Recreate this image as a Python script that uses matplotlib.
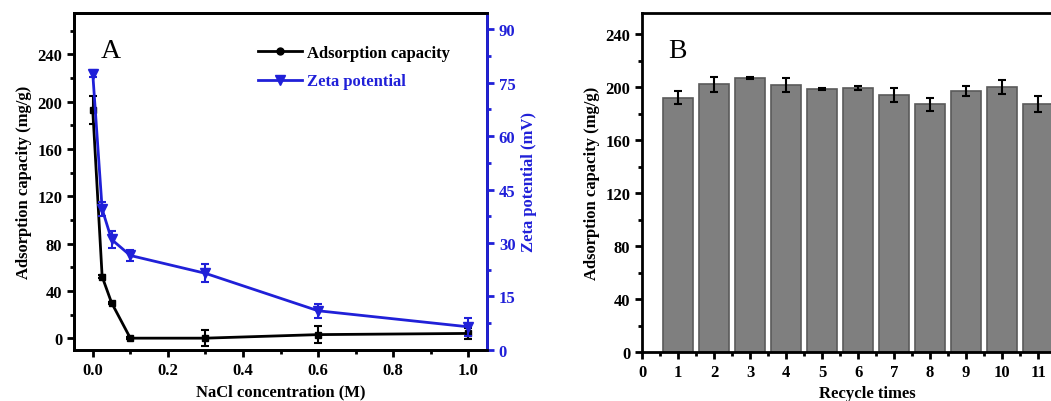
import matplotlib.pyplot as plt
from matplotlib.lines import Line2D
from matplotlib.ticker import MultipleLocator

# ── DATA ──────────────────────────────────────────────────────────────────────
nacl_conc  = [0.0, 0.025, 0.05, 0.1, 0.3, 0.6, 1.0]
ads_cap    = [193, 52, 30, 0, 0, 3, 4]
ads_err    = [12, 1, 1, 1, 7, 7, 5]
zeta       = [77.5, 39.5, 31, 26.5, 21.5, 11, 6.5]
zeta_err   = [1.0, 2.0, 2.5, 1.5, 2.5, 2.0, 2.5]

cycles     = [1, 2, 3, 4, 5, 6, 7, 8, 9, 10, 11]
cycle_cap  = [192, 202, 207, 201.5, 198.5, 199, 194, 187, 197, 200, 187]
cycle_err  = [5, 6, 1, 5.5, 0.5, 1.5, 5, 5, 4, 5.5, 6]
# ─────────────────────────────────────────────────────────────────────────────

BLUE = "#2020d8"
plt.rcParams["font.family"] = ["Liberation Serif", "DejaVu Serif"]
plt.rcParams["font.weight"] = "bold"
plt.rcParams["axes.linewidth"] = 2

fig = plt.figure(figsize=(10.51, 4.02), dpi=100)


def style_ticks(ax, **kw):
    ax.tick_params(which="major", direction="out", length=5, width=2, labelsize=12, **kw)
    ax.tick_params(which="minor", direction="out", length=3, width=2, **kw)


# ── PANEL A: NaCl effect ──────────────────────────────────────────────────────
ax = fig.add_axes([0.0704, 0.1269, 0.393, 0.8383])
ax.errorbar(nacl_conc, ads_cap, yerr=ads_err, color="black", marker="s",
            markersize=5, linewidth=2, capsize=3, elinewidth=1.5, capthick=1.5,
            zorder=3)
ax.set_xlim(-0.05, 1.05)
ax.set_ylim(-10, 275)
ax.xaxis.set_major_locator(MultipleLocator(0.2))
ax.xaxis.set_minor_locator(MultipleLocator(0.1))
ax.yaxis.set_major_locator(MultipleLocator(40))
ax.yaxis.set_minor_locator(MultipleLocator(20))
ax.xaxis.set_major_formatter(plt.FuncFormatter(lambda v, p: f"{v:.1f}"))
style_ticks(ax, top=False, right=False)
ax.set_xlabel("NaCl concentration (M)", fontsize=12, fontweight="bold")
ax.set_ylabel("Adsorption capacity (mg/g)", fontsize=12, fontweight="bold")
ax.text(0.065, 0.87, "A", transform=ax.transAxes, fontsize=20, fontweight="normal")

ax2 = ax.twinx()
ax2.errorbar(nacl_conc, zeta, yerr=zeta_err, color=BLUE, marker="v",
             markersize=7, linewidth=2, capsize=3, elinewidth=1.5, capthick=1.5,
             zorder=3)
ax2.set_ylim(0, 94.5)
ax2.yaxis.set_major_locator(MultipleLocator(15))
ax2.yaxis.set_minor_locator(MultipleLocator(7.5))
style_ticks(ax2, colors=BLUE, left=False, right=True)
ax2.spines["right"].set_color(BLUE)
ax2.set_ylabel("Zeta potential (mV)", fontsize=12, fontweight="bold", color=BLUE)

handles = [
    Line2D([], [], color="black", marker="o", markersize=5, linewidth=2),
    Line2D([], [], color=BLUE, marker="v", markersize=7, linewidth=2),
]
leg = ax.legend(handles, ["Adsorption capacity", "Zeta potential"],
                loc="upper left", frameon=False, fontsize=12,
                handlelength=2.6, handletextpad=0.3, labelspacing=0.75,
                bbox_to_anchor=(0.43, 0.925), borderaxespad=0)
for txt, c in zip(leg.get_texts(), ["black", BLUE]):
    txt.set_color(c)

# ── PANEL B: recycling ────────────────────────────────────────────────────────
bx = fig.add_axes([0.6109, 0.1219, 0.4282, 0.8433])
bx.bar(cycles, cycle_cap, width=0.82, color="#7f7f7f", edgecolor="#5a5a5a",
       linewidth=1.2, zorder=2)
bx.errorbar(cycles, cycle_cap, yerr=cycle_err, fmt="none", ecolor="black",
            elinewidth=1.5, capsize=3, capthick=1.5, zorder=3)
bx.set_xlim(0, 12.5)
bx.set_ylim(0, 256)
bx.xaxis.set_major_locator(MultipleLocator(1))
bx.xaxis.set_minor_locator(MultipleLocator(0.5))
bx.yaxis.set_major_locator(MultipleLocator(40))
bx.yaxis.set_minor_locator(MultipleLocator(20))
style_ticks(bx, top=False, right=False)
bx.set_xlabel("Recycle times", fontsize=12, fontweight="bold")
bx.set_ylabel("Adsorption capacity (mg/g)", fontsize=12, fontweight="bold")
bx.text(0.058, 0.87, "B", transform=bx.transAxes, fontsize=20,
        fontweight="normal")

fig.savefig("out.png", dpi=100)
